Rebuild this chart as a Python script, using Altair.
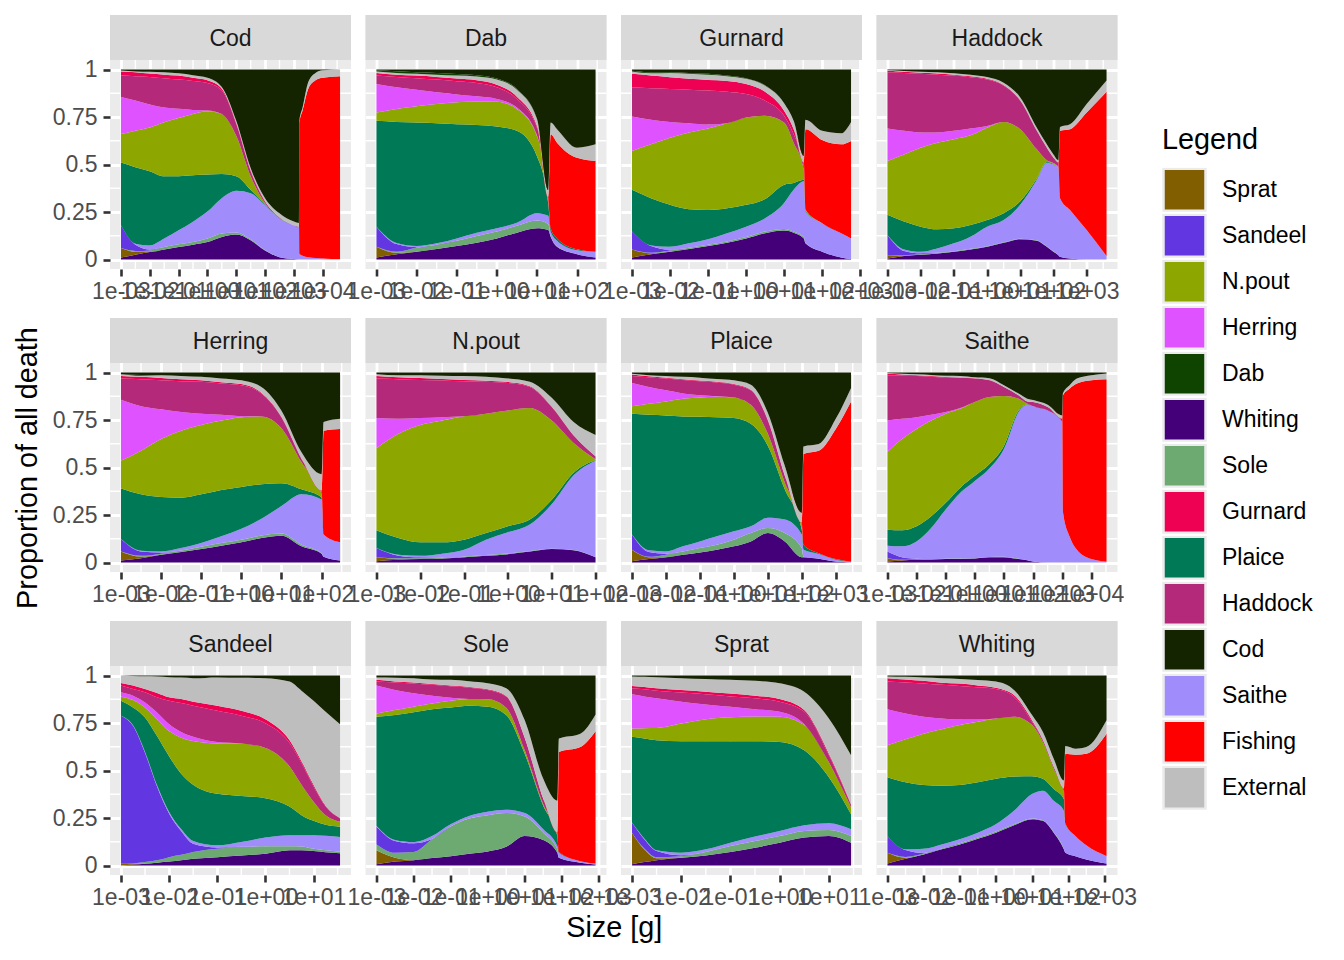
import math
import altair as alt
import pandas as pd

FONT = "Liberation Sans"

# Stack order (bottom -> top) and legend order
STACK = ["Whiting", "Sprat", "Sole", "Sandeel", "Saithe", "Plaice", "N.pout",
         "Herring", "Haddock", "Gurnard", "Fishing", "External", "Dab", "Cod"]
LEGEND = ["Sprat", "Sandeel", "N.pout", "Herring", "Dab", "Whiting", "Sole",
          "Gurnard", "Plaice", "Haddock", "Cod", "Saithe", "Fishing", "External"]
COLOURS = ["#815f00", "#6237e2", "#8da600", "#de53ff", "#0e4300", "#430079", "#6caa72",
           "#ee0053", "#007957", "#b42979", "#142300", "#a08dfb", "#ff0000", "#bebebe"]

# ---- data: proportion of all death, per prey panel, per cause (lists may omit trailing zeros)
COD = {
    "size": [0.001, 0.00316, 0.01, 0.0316, 0.1, 0.316, 1, 3.16, 10, 31.6, 100, 316, 1000, 1510, 1550, 2000, 3160, 5620, 10000, 40000],
    "Whiting": [.01, .025, .039, .053, .066, .078, .092, .119, .131, .101, .048, .012, .002],
    "Sprat": [.05, .015],
    "Sole": [0, .005, .009, .013, .014, .014, .018, .018, .011, .005, .002],
    "Sandeel": [.12, .033, .005],
    "Saithe": [0, .005, .021, .044, .074, .107, .142, .186, .22, .243, .237, .204, .178, .172, .03, .02, .012, .008, .005, .002],
    "Plaice": [.33, .403, .391, .328, .284, .244, .195, .127, .076, .018, .005, .002],
    "N.pout": [.15, .191, .23, .284, .307, .323, .333, .316, .213, .071, .004, .002],
    "Herring": [.195, .16, .121, .078, .048, .021, .004],
    "Haddock": [.115, .128, .145, .154, .154, .153, .145, .124, .062, .027, .009, .002],
    "Gurnard": [.02, .021, .018, .019, .021, .017, .014, .009, .007, .005, .002],
    "Fishing": [0, 0, 0, 0, 0, 0, 0, 0, 0, 0, 0, 0, 0, 0, .69, .764, .887, .935, .952, .963],
    "External": [.005, .004, .009, .012, .012, .013, .014, .009, .01, .012, .016, .021, .02, .02, .01, .016, .035, .039, .039, .035],
    "Cod": [.005, .01, .012, .015, .02, .03, .043, .092, .27, .518, .677, .757, .80, .808, .27, .20, .066, .018, .004, 0],
}
DAB = {
    "size": [0.001, 0.00316, 0.01, 0.0316, 0.1, 0.316, 1, 3.16, 10, 19.1, 21.9, 31.6, 100, 288],
    "Whiting": [.011, .028, .041, .055, .071, .088, .111, .141, .164, .155, .12, .067, .028, .011],
    "Sprat": [.056, .007],
    "Sole": [0, .006, .021, .023, .028, .036, .036, .036, .041, .032, .005, .004],
    "Sandeel": [.106, .04, .003],
    "Saithe": [0, .006, .006, .007, .012, .017, .017, .017, .039, .043, .022, .028, .021, .03],
    "Plaice": [.557, .637, .65, .632, .601, .567, .536, .483, .30, .063, .017, .012, .005],
    "N.pout": [.044, .068, .085, .101, .115, .124, .13, .115, .106, .016],
    "Herring": [.15, .114, .088, .062, .042, .027, .015, .008, .004],
    "Haddock": [.044, .055, .06, .067, .069, .07, .061, .045, .04, .014],
    "Gurnard": [.014, .012, .014, .014, .014, .014, .014, .012, .009, .004],
    "Fishing": [0, 0, 0, 0, 0, 0, 0, 0, 0, 0, .495, .504, .481, .477],
    "External": [.007, .009, .009, .012, .016, .02, .027, .037, .036, .04, .062, .071, .053, .088],
    "Dab": [.007, .009, .009, .009, .008, .007, .006, .004, .002],
    "Cod": [.004, .009, .014, .018, .024, .03, .047, .102, .259, .633, .279, .314, .412, .394],
}
GURNARD = {
    "size": [0.001, 0.00316, 0.01, 0.0316, 0.1, 0.316, 1, 3.16, 10, 17.8, 33.1, 36.3, 100, 316, 575],
    "Whiting": [.011, .028, .041, .055, .071, .088, .111, .138, .152, .141, .111, .085, .041, .011, .002],
    "Sprat": [.042, .005],
    "Sole": [0, .003, .007, .007, .007, .007, .007, .009, .009, .007, .007, .003],
    "Sandeel": [.094, .035, .004],
    "Saithe": [0, .003, .015, .023, .028, .043, .055, .07, .136, .219, .294, .165, .15, .127, .109],
    "Plaice": [.22, .249, .221, .18, .155, .132, .115, .101, .097, .036, .008, .005],
    "N.pout": [.204, .283, .353, .403, .428, .447, .459, .438, .327, .212, .053, .005],
    "Herring": [.182, .129, .083, .049, .021],
    "Haddock": [.153, .166, .174, .177, .179, .166, .124, .08, .035, .044, .018],
    "Gurnard": [.071, .067, .061, .057, .056, .057, .053, .047, .027, .027, .018],
    "Fishing": [0, 0, 0, 0, 0, 0, 0, 0, 0, 0, 0, .423, .438, .468, .513],
    "External": [.012, .012, .023, .026, .027, .025, .027, .032, .04, .044, .035, .049, .048, .058, .10],
    "Dab": [.005, .006, .004, .005, .005, .004, .003, .002],
    "Cod": [.006, .014, .014, .018, .023, .031, .046, .083, .177, .27, .456, .265, .323, .336, .276],
}
HADDOCK = {
    "size": [0.001, 0.00316, 0.01, 0.0316, 0.1, 0.316, 1, 3.16, 10, 31.6, 63.1, 100, 141, 158, 316, 1000, 3980],
    "Whiting": [.005, .018, .025, .032, .041, .053, .067, .088, .106, .099, .067, .041, .023, .014, .005],
    "Sprat": [.018, .003],
    "Sole": [0, .002, .003, .003, .003, .003, .003, .003, .003, .002, .002, .002],
    "Sandeel": [.106, .022, .005],
    "Saithe": [0, .008, .008, .023, .041, .064, .103, .117, .179, .319, .44, .457, .459, .309, .256, .155, .018],
    "Plaice": [.106, .147, .132, .101, .079, .062, .035, .036, .018, .006, .004, .003],
    "N.pout": [.283, .353, .415, .456, .469, .472, .486, .48, .38, .154, .01, .005, .005],
    "Herring": [.171, .124, .08, .053, .044, .035, .009],
    "Haddock": [.297, .305, .309, .305, .291, .27, .244, .191, .15, .097, .065, .027, .022],
    "Gurnard": [.009, .006, .006, .006, .005, .005, .004, .003, .002, .002, .002, .002],
    "Fishing": [0, 0, 0, 0, 0, 0, 0, 0, 0, 0, 0, 0, 0, .354, .425, .619, .865],
    "External": [.003, .004, .005, .006, .007, .008, .009, .012, .015, .015, .016, .016, .014, .021, .026, .044, .059],
    "Cod": [.002, .008, .012, .015, .02, .028, .04, .07, .147, .306, .394, .447, .477, .302, .288, .182, .058],
}
HERRING = {
    "size": [0.001, 0.00316, 0.01, 0.0316, 0.1, 0.316, 1, 3.16, 10, 31.6, 100, 112, 288],
    "Whiting": [.011, .023, .041, .055, .071, .088, .106, .129, .141, .085, .046, .03, .011],
    "Sprat": [.047, .008],
    "Sole": [0, .004, .005, .008, .012, .014, .014, .013, .011, .008, .003],
    "Sandeel": [.066, .023, .006],
    "Saithe": [0, .004, .006, .013, .019, .036, .057, .088, .145, .266, .283, .117, .095],
    "Plaice": [.265, .297, .287, .265, .257, .244, .221, .182, .12, .026, .01],
    "N.pout": [.146, .229, .305, .353, .365, .365, .367, .357, .29, .142, .017],
    "Herring": [.322, .235, .156, .098, .059, .03, .005],
    "Haddock": [.111, .142, .153, .162, .168, .165, .163, .12, .056, .017, .017],
    "Gurnard": [.014, .012, .012, .01, .008, .007, .006, .005, .004, .003, .002],
    "Fishing": [0, 0, 0, 0, 0, 0, 0, 0, 0, 0, 0, .547, .597],
    "External": [.009, .006, .015, .018, .018, .02, .02, .03, .032, .033, .087, .045, .053],
    "Dab": [0, .004],
    "Cod": [.009, .013, .014, .018, .023, .031, .041, .076, .201, .42, .535, .261, .244],
}
NPOUT = {
    "size": [0.001, 0.00316, 0.01, 0.0316, 0.1, 0.316, 1, 3.16, 10, 31.6, 100],
    "Whiting": [.007, .014, .018, .021, .028, .035, .044, .058, .071, .064, .028],
    "Sprat": [.021, .005],
    "Sole": [0, .003, .004, .004, .004, .004, .003, .003, .002, .002],
    "Sandeel": [.048, .014, .005],
    "Saithe": [0, .005, .008, .021, .035, .081, .112, .139, .233, .393, .507],
    "Plaice": [.094, .088, .071, .06, .053, .035, .032, .026, .024, .014, .005],
    "N.pout": [.431, .548, .618, .641, .65, .628, .609, .587, .417, .156, .004],
    "Herring": [.159, .079, .036, .018],
    "Haddock": [.208, .209, .201, .193, .184, .168, .145, .111, .071, .039, .014],
    "Gurnard": [.014, .01, .01, .008, .007, .006, .005, .004, .003, .002, .001],
    "External": [.009, .01, .015, .017, .02, .02, .018, .023, .046, .069, .112],
    "Cod": [.009, .015, .014, .017, .019, .023, .032, .049, .133, .261, .329],
}
PLAICE = {
    "size": [0.001, 0.00316, 0.01, 0.0316, 0.1, 0.316, 1, 3.16, 10, 31.6, 100, 112, 316, 1000, 2820],
    "Whiting": [.007, .018, .028, .041, .053, .067, .085, .111, .155, .111, .028, .028, .02, .005],
    "Sprat": [.06, .01],
    "Sole": [0, .002, .013, .017, .023, .027, .035, .044, .027, .044, .048, .002],
    "Sandeel": [.08, .025, .005],
    "Saithe": [0, .009, .012, .027, .035, .044, .044, .036, .053, .071, .071, .037, .025, .01, .004],
    "Plaice": [.636, .713, .716, .684, .656, .627, .596, .539, .38, .159, .026, .027, .004, .003],
    "N.pout": [.04, .059, .074, .093, .102, .108, .109, .10, .062, .035, .018],
    "Herring": [.122, .088, .058, .028, .011, .002],
    "Haddock": [.037, .051, .062, .071, .074, .072, .067, .076, .071, .036, .017],
    "Gurnard": [.007, .005, .005, .004, .004, .004, .003, .003, .003, .002, .001],
    "Fishing": [0, 0, 0, 0, 0, 0, 0, 0, 0, 0, 0, .477, .539, .685, .844],
    "External": [.005, .006, .009, .012, .015, .015, .02, .027, .037, .051, .052, .04, .036, .053, .071],
    "Cod": [.006, .014, .018, .023, .027, .034, .041, .064, .212, .491, .739, .389, .376, .244, .081],
}
SAITHE = {
    "size": [0.001, 0.00316, 0.01, 0.0316, 0.1, 0.316, 1, 3.16, 10, 31.6, 63.1, 100, 316, 1000, 1050, 1780, 3160, 10000, 33100],
    "Whiting": [.005, .01, .014, .016, .018, .019, .021, .027, .028, .018, .012, .005],
    "Sprat": [.018, .003],
    "Sole": [0, .002, .002, .002, .002, .002, .002, .002, .002, .002],
    "Sandeel": [.035, .013, .004],
    "Saithe": [.03, .057, .091, .164, .259, .346, .406, .466, .567, .772, .818, .818, .80, .739, .27, .138, .067, .018, .004],
    "Plaice": [.085, .085, .08, .062, .035, .027, .027, .023, .018, .008, .003],
    "N.pout": [.41, .48, .512, .503, .469, .415, .389, .353, .261, .062, .003],
    "Herring": [.164, .106, .062, .03, .009, .004],
    "Haddock": [.239, .228, .216, .20, .181, .159, .123, .088, .048, .018, .012, .022, .018, .017],
    "Gurnard": [.009, .006, .005, .004, .003, .002, .002, .001],
    "Fishing": [0, 0, 0, 0, 0, 0, 0, 0, 0, 0, 0, 0, 0, 0, .61, .777, .875, .941, .961],
    "External": [.003, .004, .005, .006, .007, .008, .005, .01, .009, .009, .014, .01, .012, .018, .009, .018, .026, .027, .03],
    "Cod": [.002, .006, .009, .013, .017, .018, .025, .03, .067, .111, .138, .145, .17, .226, .111, .067, .032, .014, .005],
}
SANDEEL = {
    "size": [0.001, 0.00178, 0.00316, 0.00562, 0.01, 0.0178, 0.0316, 0.1, 0.316, 1, 3.16, 5.62, 10, 17.8, 35.5],
    "Whiting": [0, .005, .009, .015, .021, .028, .035, .044, .053, .062, .08, .08, .076, .07, .065],
    "Sprat": [.009, .004],
    "Sole": [0, .002, .009, .012, .023, .028, .036, .044, .044, .039, .021, .02, .012, .01, .008],
    "Sandeel": [.779, .724, .575, .389, .23, .126, .044, .007, .002],
    "Saithe": [0, .003, .005, .006, .008, .01, .014, .011, .025, .046, .058, .059, .071, .076, .077],
    "Plaice": [.079, .094, .181, .259, .293, .291, .296, .271, .242, .207, .151, .106, .076, .058, .054],
    "N.pout": [.023, .039, .053, .089, .133, .19, .23, .265, .276, .265, .212, .16, .101, .051, .026],
    "Herring": [.022, .023, .026, .035, .035, .03, .023, .008],
    "Haddock": [.035, .035, .054, .08, .124, .152, .163, .164, .146, .13, .124, .115, .08, .045, .018],
    "Gurnard": [.014, .018, .017, .023, .018, .021, .021, .027, .026, .021, .014, .009, .009, .004, .002],
    "External": [.039, .051, .067, .087, .106, .113, .124, .149, .174, .216, .308, .371, .442, .495, .493],
    "Cod": [0, .002, .004, .005, .009, .011, .014, .01, .012, .014, .032, .08, .133, .191, .257],
}
SOLE = {
    "size": [0.001, 0.00316, 0.01, 0.0316, 0.1, 0.316, 1, 3.16, 10, 31.6, 75.9, 83.2, 316, 813],
    "Whiting": [.007, .021, .028, .039, .049, .062, .074, .099, .155, .134, .067, .041, .015, .005],
    "Sprat": [.073, .02],
    "Sole": [.031, .026, .043, .099, .156, .185, .191, .177, .103, .039, .018],
    "Sandeel": [.094, .062, .046, .002],
    "Saithe": [.003, .005, .006, .015, .012, .014, .018, .017, .018, .018, .017, .026, .008, .006],
    "Plaice": [.575, .658, .683, .667, .615, .58, .553, .499, .312, .123, .053, .004],
    "N.pout": [.017, .026, .03, .031, .035, .035, .039, .038, .018, .009, .009],
    "Herring": [.147, .106, .07, .041, .016],
    "Haddock": [.021, .039, .052, .057, .06, .06, .049, .059, .065, .027, .009],
    "Gurnard": [.009, .006, .005, .004, .004, .004, .003, .003, .002, .002],
    "Fishing": [0, 0, 0, 0, 0, 0, 0, 0, 0, 0, 0, .526, .601, .696],
    "External": [.012, .019, .023, .024, .03, .03, .032, .041, .092, .104, .168, .071, .07, .088],
    "Cod": [.011, .012, .014, .021, .023, .03, .041, .067, .235, .544, .659, .332, .306, .205],
}
SPRAT = {
    "size": [0.001, 0.00178, 0.00316, 0.01, 0.0316, 0.1, 0.316, 1, 3.16, 10, 28.2],
    "Whiting": [.007, .018, .028, .041, .053, .071, .094, .12, .147, .155, .12],
    "Sprat": [.166, .067, .01],
    "Sole": [0, .004, .005, .008, .018, .031, .035, .035, .035, .032, .035],
    "Sandeel": [.053, .049, .033, .005],
    "Saithe": [0, .004, .004, .013, .014, .018, .023, .027, .03, .036, .036],
    "Plaice": [.451, .526, .579, .587, .569, .534, .502, .468, .394, .242, .079],
    "N.pout": [.044, .055, .065, .093, .116, .126, .13, .133, .133, .079, .036],
    "Herring": [.18, .167, .156, .115, .078, .056, .039, .026, .005],
    "Haddock": [.032, .038, .04, .048, .053, .054, .057, .053, .065, .036, .012],
    "Gurnard": [.012, .012, .013, .014, .014, .015, .014, .014, .009, .008, .005],
    "External": [.05, .053, .058, .062, .067, .072, .078, .083, .097, .186, .257],
    "Cod": [.005, .007, .009, .014, .018, .023, .028, .041, .085, .226, .42],
}
WHITING = {
    "size": [0.001, 0.00316, 0.01, 0.0316, 0.1, 0.316, 1, 3.16, 10, 20, 39.8, 75.9, 83.2, 158, 316, 1150],
    "Whiting": [.01, .035, .058, .085, .111, .141, .173, .212, .244, .235, .173, .085, .067, .049, .032, .011],
    "Sprat": [.057, .006],
    "Sole": [0, .004, .005, .005, .006, .006, .006, .005, .004, .003, .003, .002],
    "Sandeel": [.088, .036, .003],
    "Saithe": [0, .004, .022, .021, .021, .026, .038, .071, .128, .156, .165, .201, .15, .106, .074, .038],
    "Plaice": [.31, .353, .336, .309, .286, .265, .239, .18, .094, .062, .062, .062, .005],
    "N.pout": [.168, .226, .27, .297, .315, .318, .318, .315, .269, .194, .106, .035],
    "Herring": [.19, .136, .089, .057, .03, .013],
    "Haddock": [.145, .163, .175, .177, .176, .169, .155, .106, .017, .009, .009, .018],
    "Gurnard": [.018, .016, .014, .011, .013, .01, .007, .009, .009, .003, .002, .002],
    "Fishing": [0, 0, 0, 0, 0, 0, 0, 0, 0, 0, 0, 0, .366, .428, .482, .645],
    "External": [.009, .014, .017, .024, .024, .028, .032, .026, .027, .041, .042, .042, .041, .032, .036, .071],
    "Cod": [.005, .007, .011, .014, .018, .024, .032, .076, .208, .297, .438, .553, .371, .385, .376, .235],
}

GRID = [
    [("Cod", COD), ("Dab", DAB), ("Gurnard", GURNARD), ("Haddock", HADDOCK)],
    [("Herring", HERRING), ("N.pout", NPOUT), ("Plaice", PLAICE), ("Saithe", SAITHE)],
    [("Sandeel", SANDEEL), ("Sole", SOLE), ("Sprat", SPRAT), ("Whiting", WHITING)],
]

W, H, SH = 241, 209, 45          # panel width, panel height, strip height (px)
COLSP, ROWSP = 14.5, 49
SMALL, BIG = 23, 28.8
YTOP = 1.05 + SH * 1.1 / H       # y domain extended upward to hold the strip
LABEL_EXPR = ("'1e' + (datum.value < 1 ? '-' : '+') + "
              "(abs(round(log(datum.value) / LN10)) < 10 ? '0' : '') + "
              "abs(round(log(datum.value) / LN10))")

LEGEND_DEF = alt.Legend(
    title="Legend", orient="none", legendX=1052, legendY=111,
    symbolType="square", symbolSize=1764, symbolStrokeColor="#ebebeb",
    symbolStrokeWidth=2.5, symbolOpacity=1, labelFontSize=SMALL, labelColor="black",
    titleFontSize=BIG, titleFontWeight="normal", titleColor="black",
    clipHeight=44, rowPadding=2, labelOffset=15, titlePadding=13, padding=0,
)


def long_frame(d):
    sizes = d["size"]
    rows = []
    for i, s in enumerate(sizes):
        for k, c in enumerate(STACK):
            arr = d.get(c, [])
            rows.append({"size": s, "cause": c, "stack": k,
                         "value": arr[i] if i < len(arr) else 0.0})
    return pd.DataFrame(rows)


def make_panel(name, d, col, row):
    sizes = d["size"]
    lo, hi = math.log10(min(sizes)), math.log10(max(sizes))
    r = hi - lo
    dlo, dhi = lo - 0.05 * r, hi + 0.05 * r
    majors = [10.0 ** k for k in range(math.ceil(dlo), math.floor(dhi) + 1)]
    minors = [10.0 ** (k + 0.5) for k in range(math.floor(dlo) - 1, math.floor(dhi) + 1)
              if dlo < k + 0.5 < dhi]
    xscale = alt.Scale(type="log", domain=[10 ** dlo, 10 ** dhi], nice=False)
    yscale = alt.Scale(domain=[-0.05, YTOP], nice=False, zero=False)

    if name == "Sole":
        xtitle_kw = dict(title="Size [g]",
                         titleX=(4 * W + 3 * COLSP) / 2 - (W + COLSP),
                         titleFontSize=BIG, titleColor="black", titleFontWeight="normal",
                         titlePadding=4)
    else:
        xtitle_kw = dict(title=None)
    xaxis = alt.Axis(values=majors, labelExpr=LABEL_EXPR, grid=True, gridColor="white",
                     gridWidth=2.8, tickColor="#333333", tickWidth=2.6, tickSize=7,
                     labelFontSize=SMALL, labelColor="#4d4d4d", labelPadding=4,
                     labelOverlap=False, labelBound=False, labelFlush=False, domain=False,
                     **xtitle_kw)
    if col == 0:
        ykw = dict(labels=True, ticks=True, tickColor="#333333", tickWidth=2.6, tickSize=7,
                   labelFontSize=SMALL, labelColor="#4d4d4d", labelPadding=6, format="~g")
        if row == 1:
            ykw.update(title="Proportion of all death", titleFontSize=BIG, titleColor="black",
                       titleFontWeight="normal", titlePadding=10, titleY=SH + H / 2)
        else:
            ykw.update(title=None)
    else:
        ykw = dict(labels=False, ticks=False, title=None)
    yaxis = alt.Axis(values=[0, 0.25, 0.5, 0.75, 1], grid=True, gridColor="white",
                     gridWidth=2.8, domain=False, **ykw)

    area = alt.Chart(long_frame(d)).mark_area(interpolate="monotone", opacity=1).encode(
        x=alt.X("size:Q", scale=xscale, axis=xaxis),
        y=alt.Y("value:Q", stack="zero", scale=yscale, axis=yaxis),
        color=alt.Color("cause:N", scale=alt.Scale(domain=LEGEND, range=COLOURS),
                        legend=LEGEND_DEF),
        order=alt.Order("stack:Q", sort="ascending"),
    )
    minor_x = alt.Chart(pd.DataFrame({"mx": minors})).mark_rule(
        color="white", strokeWidth=1.4).encode(x=alt.X("mx:Q", scale=xscale, axis=xaxis))
    minor_y = alt.Chart(pd.DataFrame({"my": [0.125, 0.375, 0.625, 0.875]})).mark_rule(
        color="white", strokeWidth=1.4).encode(y=alt.Y("my:Q", scale=yscale, axis=yaxis))
    label_df = pd.DataFrame({"panel": [name]})
    strip_bg = alt.Chart(label_df).mark_rect(color="#d9d9d9").encode(
        x=alt.value(0), x2=alt.value(W), y=alt.value(0), y2=alt.value(SH))
    strip_tx = alt.Chart(label_df).mark_text(
        fontSize=SMALL, color="#1a1a1a", align="center", baseline="middle").encode(
        text="panel:N", x=alt.value(W / 2), y=alt.value(SH / 2 + 1))
    return alt.layer(minor_x, minor_y, area, strip_bg, strip_tx).properties(
        width=W, height=H + SH)


panels = []
for ri, row in enumerate(GRID):
    for ci, (n, d) in enumerate(row):
        panels.append(make_panel(n, d, ci, ri))

chart = alt.concat(*panels, columns=4, spacing={"row": ROWSP, "column": COLSP},
                   bounds="flush").properties(
    padding={"left": 5, "top": 6, "right": 5, "bottom": 5}
).configure(font=FONT, background="white").configure_view(
    fill="#ebebeb", stroke=None
)

chart.save("out.html", embed_options={"renderer": "svg", "actions": False})
